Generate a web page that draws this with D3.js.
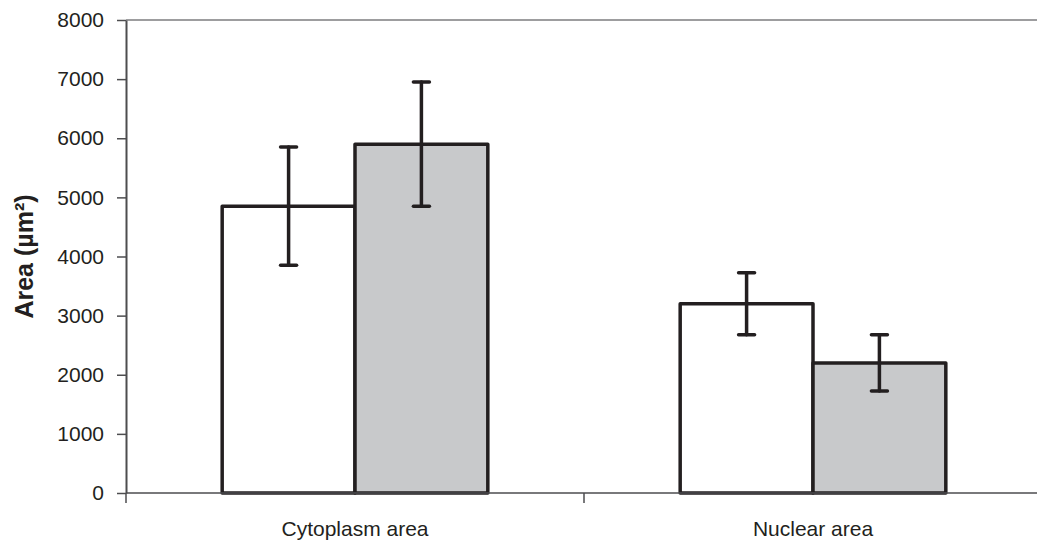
<!DOCTYPE html>
<html>
<head>
<meta charset="utf-8">
<script src="https://cdn.jsdelivr.net/npm/d3@7"></script>
<style>
  body { margin: 0; background: #fff; }
  svg { display: block; font-family: "Liberation Sans", Arial, sans-serif; }
</style>
</head>
<body>
<div class="content"></div>
<script>
(function() {
	// chart values
	var categories = ["Cytoplasm area", "Nuclear area"];
	var groups = ["a", "b"];
	var fills = ["#ffffff", "#c8c9cb"];
	var means = [[4850, 5900], [3200, 2200]];
	var errors = [[1000, 1050], [525, 475]];
	var yTicks = [0, 1000, 2000, 3000, 4000, 5000, 6000, 7000, 8000];

	var width = 1037, height = 544;
	var left = 126, right = 1042, top = 20, bottom = 493;

	var svg = d3.select(".content")
		.append("svg")
		.attr("width", width)
		.attr("height", height);

	var x = d3.scaleBand()
		.domain(categories)
		.range([left, right])
		.paddingInner(0.42)
		.paddingOuter(0.21);

	var xInner = d3.scaleBand()
		.domain(groups)
		.range([0, x.bandwidth()]);

	var y = d3.scaleLinear()
		.domain([0, 8000])
		.range([bottom, top]);

	// top border of plot area
	svg.append("line")
		.attr("x1", left).attr("x2", right)
		.attr("y1", y(8000)).attr("y2", y(8000))
		.attr("stroke", "#9d9d9f")
		.attr("stroke-width", 2);

	// bars
	var rows = [];
	categories.forEach(function(c, i) {
		groups.forEach(function(g, j) {
			rows.push({ cat: c, grp: g, fill: fills[j], v: means[i][j], e: errors[i][j] });
		});
	});

	svg.append("g").selectAll("rect")
		.data(rows)
		.enter().append("rect")
		.attr("x", function(d) { return x(d.cat) + xInner(d.grp); })
		.attr("y", function(d) { return y(d.v); })
		.attr("width", xInner.bandwidth())
		.attr("height", function(d) { return y(0) - y(d.v); })
		.attr("fill", function(d) { return d.fill; })
		.attr("stroke", "#231f20")
		.attr("stroke-width", 3.5)
		.attr("stroke-linejoin", "round");

	// error bars
	var err = svg.append("g")
		.attr("stroke", "#231f20")
		.attr("stroke-width", 3.5)
		.attr("stroke-linecap", "round")
		.selectAll("g")
		.data(rows)
		.enter().append("g")
		.attr("transform", function(d) {
			return "translate(" + (x(d.cat) + xInner(d.grp) + xInner.bandwidth() / 2) + ",0)";
		});

	err.append("line")
		.attr("y1", function(d) { return y(d.v + d.e); })
		.attr("y2", function(d) { return y(d.v - d.e); });
	err.append("line")
		.attr("x1", -8).attr("x2", 8)
		.attr("y1", function(d) { return y(d.v + d.e); })
		.attr("y2", function(d) { return y(d.v + d.e); });
	err.append("line")
		.attr("x1", -8).attr("x2", 8)
		.attr("y1", function(d) { return y(d.v - d.e); })
		.attr("y2", function(d) { return y(d.v - d.e); });

	// y axis
	var yAxis = svg.append("g")
		.attr("transform", "translate(" + left + ",0)")
		.call(d3.axisLeft(y).tickValues(yTicks).tickFormat(d3.format("d"))
			.tickSize(9).tickPadding(13).tickSizeOuter(0));
	yAxis.select(".domain").attr("stroke", "#4d4d4f").attr("stroke-width", 2);
	yAxis.selectAll(".tick line").attr("stroke", "#4d4d4f").attr("stroke-width", 1.5);
	yAxis.selectAll(".tick text")
		.attr("fill", "#231f20")
		.style("font-size", "21px")
		.style("font-family", "'Liberation Sans', Arial, sans-serif");

	// x axis line with separator ticks
	svg.append("line")
		.attr("x1", left).attr("x2", right)
		.attr("y1", y(0)).attr("y2", y(0))
		.attr("stroke", "#4d4d4f")
		.attr("stroke-width", 1.5);

	var bounds = [left].concat(categories.map(function(c) { return x(c) + x.bandwidth() + x.step() * x.paddingInner() / 2; }));
	svg.append("g").selectAll("line")
		.data(bounds)
		.enter().append("line")
		.attr("x1", function(d) { return d; })
		.attr("x2", function(d) { return d; })
		.attr("y1", y(0))
		.attr("y2", y(0) + 10)
		.attr("stroke", "#4d4d4f")
		.attr("stroke-width", 1.5);

	svg.append("g").selectAll("text")
		.data(categories)
		.enter().append("text")
		.attr("x", function(d) { return x(d) + x.bandwidth() / 2; })
		.attr("y", 536)
		.attr("text-anchor", "middle")
		.attr("fill", "#231f20")
		.style("font-size", "21px")
		.text(function(d) { return d; });

	// y title
	svg.append("text")
		.attr("transform", "translate(33," + ((top + bottom) / 2) + ") rotate(-90)")
		.attr("text-anchor", "middle")
		.attr("fill", "#231f20")
		.style("font-size", "25px")
		.style("font-weight", "bold")
		.text("Area (µm²)");
}());
</script>
</body>
</html>
